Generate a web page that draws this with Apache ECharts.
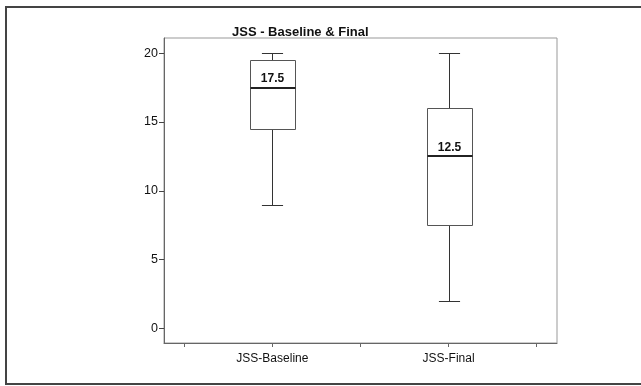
<!DOCTYPE html>
<html><head><meta charset="utf-8">
<script src="https://cdn.jsdelivr.net/npm/echarts@6/dist/echarts.min.js"></script>
<style>html,body{margin:0;padding:0;background:#fff}#c{width:641px;height:386px}</style>
</head><body><div id="c"></div>
<script>
const categories = ['JSS-Baseline', 'JSS-Final'];
const categoryPositions = [1, 3];
const mins = [9, 2];
const q1s = [14.5, 7.5];
const medians = [17.5, 12.5];
const q3s = [19.5, 16];
const maxs = [20, 20];
const yTicks = [0, 5, 10, 15, 20];
const xTicks = [0, 1, 2, 3, 4];

const data = categories.map((c, i) => [categoryPositions[i], mins[i], q1s[i], medians[i], q3s[i], maxs[i]]);

const chart = echarts.init(document.getElementById('c'), null, {renderer: 'canvas'});
const font = 'Liberation Sans, Arial, sans-serif';
chart.setOption({
  animation: false,
  backgroundColor: '#fff',
  title: {
    text: 'JSS - Baseline & Final',
    left: 227, top: 21,
    textStyle: {fontFamily: font, fontSize: 13, fontWeight: 'bold', color: '#111'}
  },
  graphic: [{
    type: 'rect', shape: {x: 6, y: 7, width: 700, height: 377},
    style: {fill: 'none', stroke: '#444', lineWidth: 2}, silent: true, z: 0
  }],
  grid: {left: 164, top: 38, width: 393, height: 305, show: true, borderColor: '#999', borderWidth: 1, backgroundColor: '#fff'},
  xAxis: {
    type: 'value', min: -0.23, max: 4.23,
    splitLine: {show: false},
    axisLine: {show: true, onZero: false, lineStyle: {color: '#666'}},
    axisTick: {show: true, customValues: xTicks, length: 4, lineStyle: {color: '#666'}},
    axisLabel: {
      customValues: categoryPositions, margin: 10,
      formatter: v => categories[categoryPositions.indexOf(v)] || '',
      fontFamily: font, fontSize: 12, color: '#111'
    }
  },
  yAxis: {
    type: 'value', min: -1.05, max: 21.1,
    splitLine: {show: false},
    axisLine: {show: true, onZero: false, lineStyle: {color: '#666'}},
    axisTick: {show: true, customValues: yTicks, length: 5, lineStyle: {color: '#444'}},
    axisLabel: {customValues: yTicks, margin: 6, fontFamily: font, fontSize: 12.5, color: '#111'}
  },
  series: [{
    type: 'custom',
    data: data,
    encode: {x: 0, y: [1, 2, 3, 4, 5]},
    renderItem: function (params, api) {
      const x = api.value(0);
      const pMin = api.coord([x, api.value(1)]);
      const pQ1 = api.coord([x, api.value(2)]);
      const pMed = api.coord([x, api.value(3)]);
      const pQ3 = api.coord([x, api.value(4)]);
      const pMax = api.coord([x, api.value(5)]);
      const unit = api.size([1, 0])[0];
      const bw = unit * 0.51, cw = unit * 0.24;
      const cx = Math.round(pMed[0]) + 0.5;
      const r = v => Math.round(v) + 0.5;
      const line = (x1, y1, x2, y2, color, w) => ({
        type: 'line', shape: {x1: x1, y1: y1, x2: x2, y2: y2},
        style: {stroke: color, lineWidth: w}
      });
      return {
        type: 'group',
        children: [
          line(cx, r(pMax[1]), cx, r(pQ3[1]), '#333', 1),
          line(cx, r(pQ1[1]), cx, r(pMin[1]), '#333', 1),
          line(cx - cw / 2, r(pMax[1]), cx + cw / 2, r(pMax[1]), '#333', 1),
          line(cx - cw / 2, r(pMin[1]), cx + cw / 2, r(pMin[1]), '#333', 1),
          {type: 'rect', shape: {x: Math.round(cx - bw / 2) + 0.5, y: r(pQ3[1]), width: Math.round(bw), height: Math.round(pQ1[1] - pQ3[1])},
           style: {fill: '#fff', stroke: '#555', lineWidth: 1}},
          line(Math.round(cx - bw / 2) + 0.5, Math.round(pMed[1]), Math.round(cx - bw / 2) + 0.5 + Math.round(bw), Math.round(pMed[1]), '#222', 2),
          {type: 'text', style: {text: String(api.value(3)), x: cx, y: pMed[1] - 3,
            align: 'center', verticalAlign: 'bottom', fontFamily: font, fontSize: 12, fontWeight: 'bold', fill: '#111'}}
        ]
      };
    }
  }]
});
</script></body></html>
